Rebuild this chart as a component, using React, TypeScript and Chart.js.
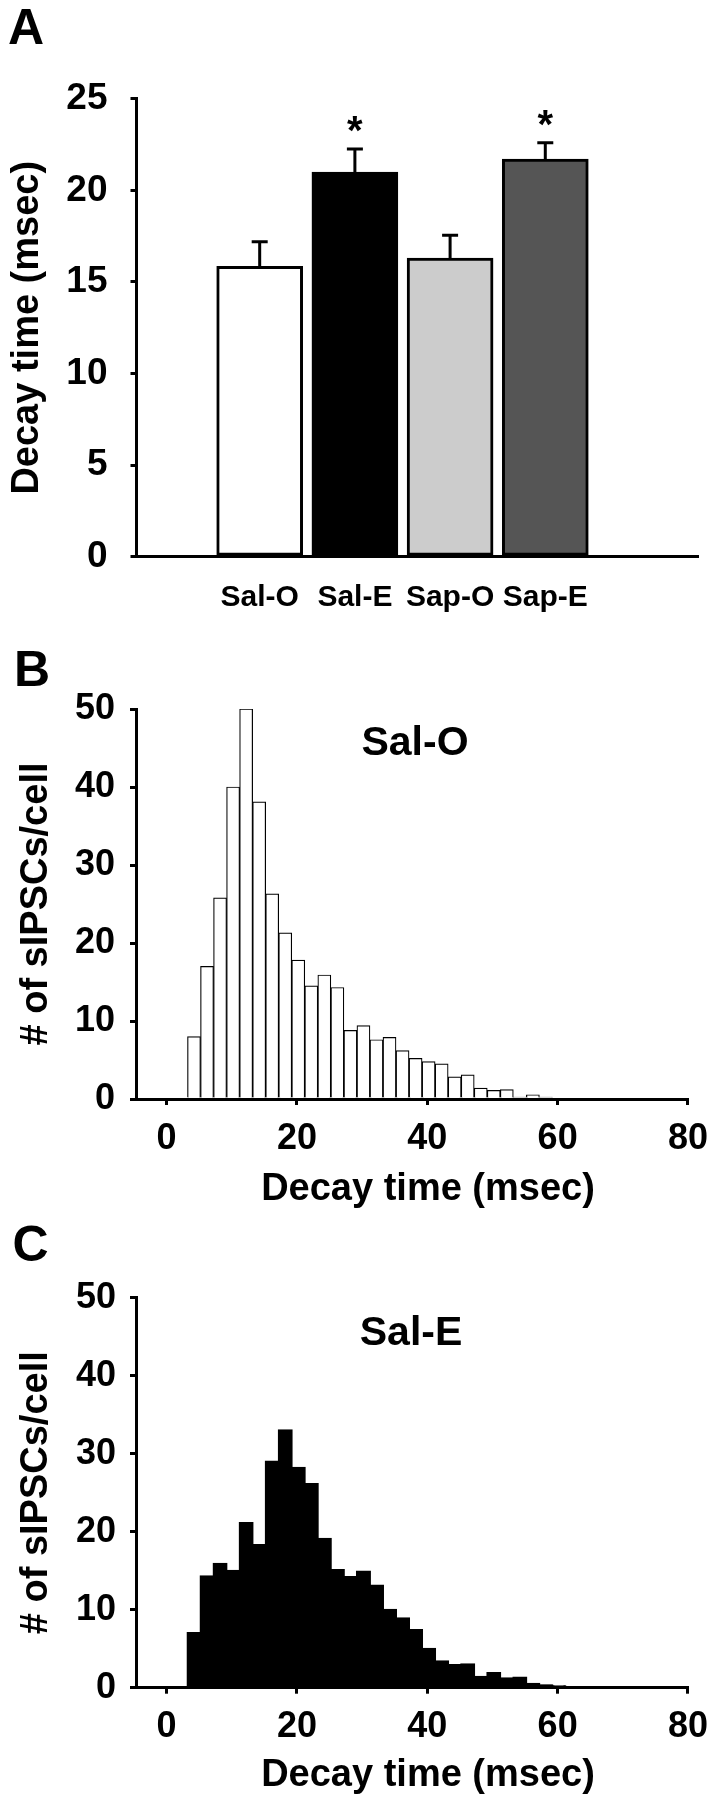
import React, { useEffect, useRef } from 'react';
import { Chart, registerables } from 'chart.js';

Chart.register(...registerables);

const FONT = "'Liberation Sans', Arial, Helvetica, sans-serif";

// ---------- Panel A data ----------
const groupLabels = ['Sal-O', 'Sal-E', 'Sap-O', 'Sap-E'];
const groupPositions = [1, 2, 3, 4];
const decayMeans = [15.85, 21.0, 16.3, 21.7];
const decaySEM = [1.35, 1.25, 1.25, 0.9];
const significant = [false, true, false, true];
const groupColors = ['#ffffff', '#000000', '#cccccc', '#555555'];
const decayTicks = [0, 5, 10, 15, 20, 25];

// ---------- Panels B & C data (2 ms bins) ----------
const binCenters = [
  4.2, 6.2, 8.2, 10.2, 12.2, 14.2, 16.2, 18.2, 20.2, 22.2,
  24.2, 26.2, 28.2, 30.2, 32.2, 34.2, 36.2, 38.2, 40.2, 42.2,
  44.2, 46.2, 48.2, 50.2, 52.2, 54.2, 56.2, 58.2, 60.2, 62.2,
];
const salOCounts = [
  8, 17, 25.8, 40, 50, 38.1, 26.3, 21.3, 17.8, 14.5,
  15.9, 14.3, 8.8, 9.4, 7.6, 7.9, 6.2, 5.2, 4.8, 4.5,
  2.85, 3.1, 1.4, 1.1, 1.2, 0.25, 0.55, 0.25,
];
const salECounts = [
  7.0, 14.3, 15.9, 15.0, 21.1, 18.3, 29.0, 33.0, 28.2, 26.1,
  19.1, 15.1, 14.2, 14.9, 13.1, 10.0, 8.9, 7.4, 5.0, 3.4,
  2.9, 3.0, 1.4, 1.9, 1.2, 1.3, 0.5, 0.3, 0.2, 0.15,
];
const histXTicks = [0, 20, 40, 60, 80];
const histYTicks = [0, 10, 20, 30, 40, 50];

type TextItem = { text: string; x: number; y: number; size: number; align?: CanvasTextAlign };

function textPlugin(items: TextItem[]) {
  return {
    id: 'panelTexts',
    afterDraw(chart: any) {
      const ctx = chart.ctx as CanvasRenderingContext2D;
      items.forEach((it) => {
        ctx.save();
        ctx.font = `bold ${it.size}px ${FONT}`;
        ctx.fillStyle = '#000';
        ctx.textAlign = it.align || 'center';
        ctx.textBaseline = 'alphabetic';
        ctx.fillText(it.text, it.x, it.y + 0.358 * it.size);
        ctx.restore();
      });
    },
  };
}

const errorBarPlugin = {
  id: 'errorBars',
  afterDatasetsDraw(chart: any) {
    const ctx = chart.ctx as CanvasRenderingContext2D;
    const xs = chart.scales.x;
    const ys = chart.scales.y;
    ctx.save();
    ctx.strokeStyle = '#000';
    ctx.fillStyle = '#000';
    ctx.lineWidth = 3;
    groupPositions.forEach((pos, i) => {
      const x = xs.getPixelForValue(pos);
      const y0 = ys.getPixelForValue(decayMeans[i]);
      const y1 = ys.getPixelForValue(decayMeans[i] + decaySEM[i]);
      ctx.beginPath();
      ctx.moveTo(x, y0);
      ctx.lineTo(x, y1);
      ctx.moveTo(x - 8, y1);
      ctx.lineTo(x + 8, y1);
      ctx.stroke();
      if (significant[i]) {
        ctx.font = `bold 40px ${FONT}`;
        ctx.textAlign = 'center';
        ctx.textBaseline = 'alphabetic';
        ctx.fillText('*', x, y1 - 28 + 0.58 * 40);
      }
    });
    ctx.restore();
  },
};

const tickFont = (size: number) => ({ family: FONT, size, weight: 'bold' as const });

function histConfig(
  counts: number[],
  fill: string,
  borderW: number,
  inflate: number | 'auto',
  yPadTop: number,
  xHeight: number,
  texts: TextItem[],
  yTickPad: number,
) {
  return {
    type: 'bar' as const,
    data: {
      datasets: [
        {
          data: counts.map((c, i) => ({ x: binCenters[i], y: c })),
          backgroundColor: fill,
          borderColor: '#000',
          borderWidth: borderW,
          borderSkipped: 'start',
          inflateAmount: inflate,
          barPercentage: 1,
          categoryPercentage: 1,
        },
      ],
    },
    options: {
      responsive: false,
      animation: false,
      layout: { padding: { top: yPadTop, right: 26.7, bottom: 0, left: 0 } },
      plugins: { legend: { display: false }, tooltip: { enabled: false } },
      scales: {
        x: {
          type: 'linear',
          offset: false,
          min: -4.7,
          max: 80,
          afterBuildTicks: (s: any) => {
            s.ticks = histXTicks.map((v) => ({ value: v }));
          },
          ticks: { font: tickFont(36), color: '#000', padding: 12, maxRotation: 0, autoSkip: false },
          grid: { offset: false, drawOnChartArea: false, tickLength: 6, color: '#000', lineWidth: 3 },
          border: { color: '#000', width: 3 },
          afterFit: (s: any) => {
            s.height = xHeight;
          },
        },
        y: {
          min: 0,
          max: 50,
          afterBuildTicks: (s: any) => {
            s.ticks = histYTicks.map((v) => ({ value: v }));
          },
          ticks: { font: tickFont(36), color: '#000', padding: yTickPad },
          grid: { drawOnChartArea: false, tickLength: 6, color: '#000', lineWidth: 3 },
          border: { color: '#000', width: 3 },
          title: {
            display: true,
            text: '# of sIPSCs/cell',
            color: '#000',
            font: tickFont(38),
            padding: { top: 14, bottom: 0 },
          },
          afterFit: (s: any) => {
            s.width = 136;
          },
        },
      },
    },
    plugins: [textPlugin(texts)],
  };
}

export default function App() {
  const refA = useRef<HTMLCanvasElement>(null);
  const refB = useRef<HTMLCanvasElement>(null);
  const refC = useRef<HTMLCanvasElement>(null);

  useEffect(() => {
    const charts: Chart[] = [];

    const cfgA: any = {
      type: 'bar',
      data: {
        datasets: [
          {
            data: groupPositions.map((x, i) => ({ x, y: decayMeans[i] })),
            backgroundColor: groupColors,
            borderColor: '#000',
            borderWidth: 3,
            borderSkipped: false,
            barThickness: 86,
          },
        ],
      },
      options: {
        responsive: false,
        animation: false,
        layout: { padding: { top: 98.7, right: 22, bottom: 0, left: 0 } },
        plugins: { legend: { display: false }, tooltip: { enabled: false } },
        scales: {
          x: {
            type: 'linear',
            offset: false,
            min: -0.294,
            max: 5.604,
            afterBuildTicks: (s: any) => {
              s.ticks = groupPositions.map((v) => ({ value: v }));
            },
            ticks: {
              font: tickFont(30),
              color: '#000',
              padding: 23,
              autoSkip: false,
              maxRotation: 0,
              callback: (_v: any, i: number) => groupLabels[i],
            },
            grid: { offset: false, drawOnChartArea: false, drawTicks: false },
            border: { color: '#000', width: 3 },
            afterFit: (s: any) => {
              s.height = 83.2;
            },
          },
          y: {
            min: 0,
            max: 25,
            afterBuildTicks: (s: any) => {
              s.ticks = decayTicks.map((v) => ({ value: v }));
            },
            ticks: { font: tickFont(37), color: '#000', padding: 23 },
            grid: { drawOnChartArea: false, tickLength: 6, color: '#000', lineWidth: 3 },
            border: { color: '#000', width: 3 },
            title: {
              display: true,
              text: 'Decay time (msec)',
              color: '#000',
              font: tickFont(38),
              padding: { top: 4.7, bottom: 0 },
            },
            afterFit: (s: any) => {
              s.width = 136.5;
            },
          },
        },
      },
      plugins: [errorBarPlugin, textPlugin([{ text: 'A', x: 8, y: 25.9, size: 50, align: 'left' }])],
    };

    const cfgB: any = histConfig(salOCounts, '#ffffff', 1.2, 'auto', 69, 121, [
      { text: 'B', x: 14, y: 28, size: 50, align: 'left' },
      { text: 'Sal-O', x: 415, y: 100, size: 41 },
      { text: 'Decay time (msec)', x: 428, y: 546.5, size: 38 },
    ], 15);

    const cfgC: any = histConfig(salECounts, '#000000', 1, 1, 77.7, 112.3, [
      { text: 'C', x: 12.5, y: 23, size: 50, align: 'left' },
      { text: 'Sal-E', x: 411, y: 110, size: 41 },
      { text: 'Decay time (msec)', x: 428, y: 552.5, size: 38 },
    ], 14);

    if (refA.current) charts.push(new Chart(refA.current, cfgA));
    if (refB.current) charts.push(new Chart(refB.current, cfgB));
    if (refC.current) charts.push(new Chart(refC.current, cfgC));

    return () => {
      charts.forEach((c) => c.destroy());
    };
  }, []);

  return (
    <div style={{ position: 'absolute', left: 0, top: 0, width: 720, height: 1800, background: '#fff' }}>
      <canvas ref={refA} width={720} height={640} style={{ position: 'absolute', left: 0, top: 0, width: 720, height: 640 }} />
      <canvas ref={refB} width={720} height={580} style={{ position: 'absolute', left: 0, top: 640, width: 720, height: 580 }} />
      <canvas ref={refC} width={720} height={580} style={{ position: 'absolute', left: 0, top: 1220, width: 720, height: 580 }} />
    </div>
  );
}
